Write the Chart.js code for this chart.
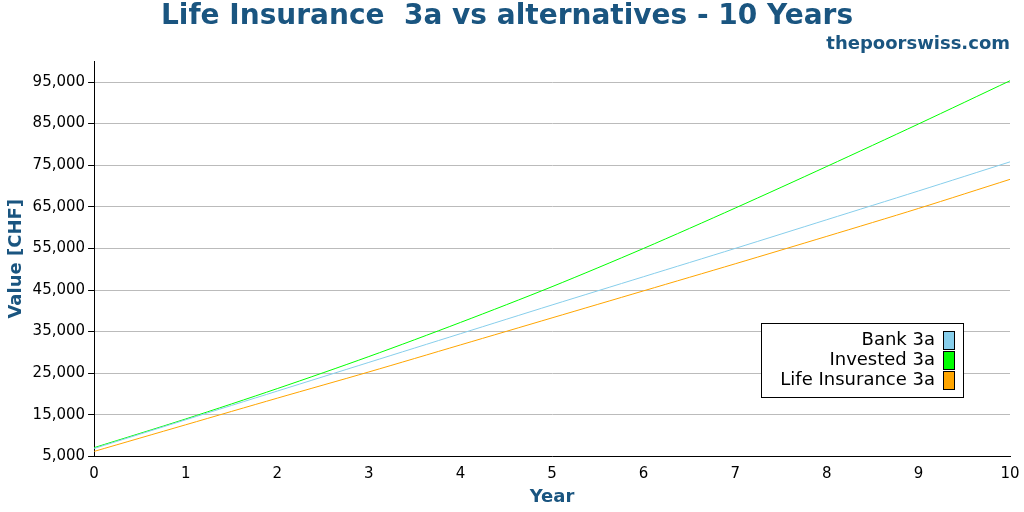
<!DOCTYPE html>
<html>
<head>
<meta charset="utf-8">
<script src="https://cdn.jsdelivr.net/npm/chart.js@4/dist/chart.umd.min.js"></script>
<style>
  body { margin: 0; background: #fff; }
  #wrap { width: 1024px; height: 512px; }
</style>
</head>
<body>
<div id="wrap"><canvas id="c"></canvas></div>
<script>
const years = [0, 1, 2, 3, 4, 5, 6, 7, 8, 9, 10];
const bank3a = [6900, 13800, 20700, 27600, 34500, 41400, 48200, 55000, 61900, 68800, 75800];
const invested3a = [7100, 14000, 21300, 29000, 37200, 45800, 55000, 64700, 74700, 84900, 95300];
const lifeInsurance3a = [6200, 12600, 19000, 25300, 31800, 38300, 44800, 51300, 57900, 64600, 71600];
const yTicks = [5000, 15000, 25000, 35000, 45000, 55000, 65000, 75000, 85000, 95000];

const blue = "#1a5580";

// legend drawn like the original: boxed, text right-aligned, swatch on the right
const boxLegend = {
  id: "boxLegend",
  afterDraw(chart) {
    const ctx = chart.ctx;
    const x0 = 761, y0 = 323, w = 202, h = 74;
    ctx.save();
    ctx.fillStyle = "#fff";
    ctx.fillRect(x0, y0, w, h);
    ctx.strokeStyle = "#000";
    ctx.lineWidth = 1;
    ctx.strokeRect(x0 + 0.5, y0 + 0.5, w, h);
    ctx.font = "18px 'DejaVu Sans'";
    ctx.textAlign = "right";
    ctx.textBaseline = "middle";
    chart.data.datasets.forEach((ds, i) => {
      const cy = y0 + 17 + i * 20;
      ctx.fillStyle = "#000";
      ctx.fillText(ds.label, x0 + w - 28, cy);
      ctx.fillStyle = ds.borderColor;
      ctx.fillRect(x0 + w - 20, cy - 9, 11, 18);
      ctx.strokeRect(x0 + w - 20 + 0.5, cy - 9 + 0.5, 11, 18);
    });
    ctx.restore();
  }
};

new Chart(document.getElementById("c"), {
  type: "line",
  data: {
    labels: years,
    datasets: [
      { label: "Bank 3a", data: bank3a, borderColor: "#87ceeb", backgroundColor: "#87ceeb" },
      { label: "Invested 3a", data: invested3a, borderColor: "#00ff00", backgroundColor: "#00ff00" },
      { label: "Life Insurance 3a", data: lifeInsurance3a, borderColor: "#ffa500", backgroundColor: "#ffa500" },
    ],
  },
  options: {
    responsive: true,
    maintainAspectRatio: false,
    animation: false,
    layout: { padding: { left: 4, right: 14, top: 0, bottom: 4 } },
    elements: {
      line: { borderWidth: 1, tension: 0.3 },
      point: { radius: 0 },
    },
    scales: {
      x: {
        type: "linear",
        min: 0,
        max: 10,
        ticks: { stepSize: 1, color: "#000", font: { family: "DejaVu Sans", size: 15 } },
        grid: { display: false, drawTicks: true, tickLength: 6, tickColor: "#000" },
        border: { color: "#000" },
        title: { display: true, text: "Year", color: blue, font: { family: "DejaVu Sans", size: 18, weight: "bold" }, padding: 0 },
      },
      y: {
        min: 5000,
        max: 100000,
        afterBuildTicks(axis) { axis.ticks = yTicks.map(v => ({ value: v })); },
        ticks: { color: "#000", font: { family: "DejaVu Sans", size: 15 } },
        grid: { color: "#bbb", tickColor: "#000", tickLength: 6, borderDash: [2, 3] },
        border: { color: "#000" },
        title: { display: true, text: "Value [CHF]", color: blue, font: { family: "DejaVu Sans", size: 18, weight: "bold" }, padding: 2 },
      },
    },
    plugins: {
      legend: { display: false },
      tooltip: { enabled: false },
      title: {
        display: true,
        text: "Life Insurance  3a vs alternatives - 10 Years",
        color: blue,
        font: { family: "DejaVu Sans", size: 28, weight: "bold" },
        padding: { top: 0, bottom: 0 },
      },
      subtitle: {
        display: true,
        text: "thepoorswiss.com",
        align: "end",
        color: blue,
        font: { family: "DejaVu Sans", size: 18, weight: "bold" },
        padding: { top: 0, bottom: 6 },
      },
    },
  },
  plugins: [boxLegend],
});
</script>
</body>
</html>
